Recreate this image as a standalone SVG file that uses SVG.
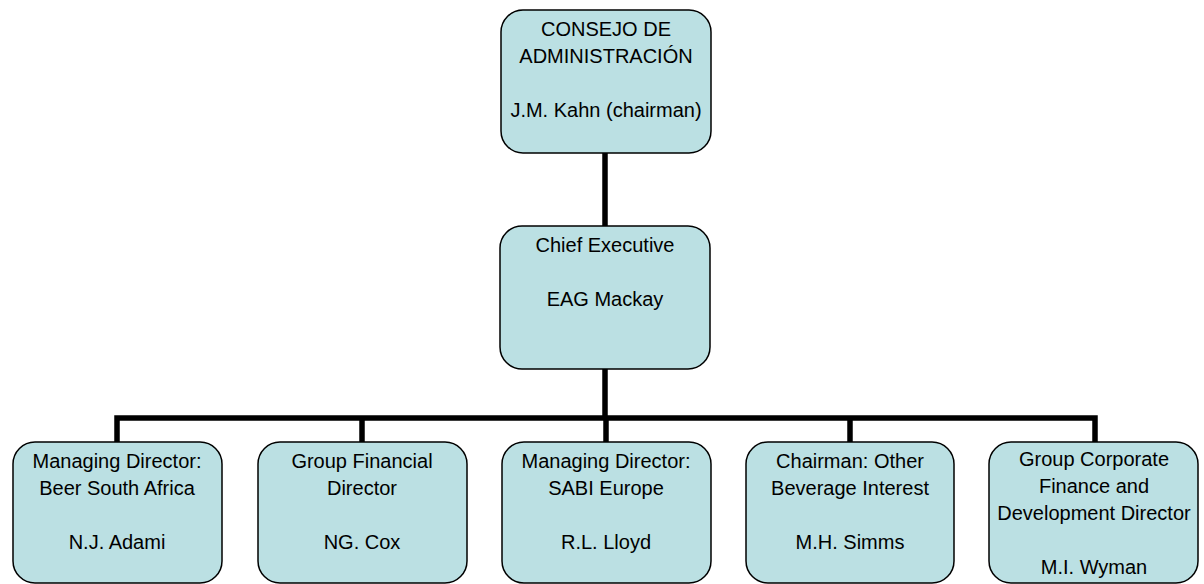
<svg xmlns="http://www.w3.org/2000/svg" width="1204" height="584" viewBox="0 0 1204 584">
<style>
.box{fill:#BBE0E3;stroke:#000;stroke-width:1.5}
.t{font-family:"Liberation Sans",Arial,sans-serif;font-size:20px;fill:#000;text-anchor:middle}
.c{stroke:#000;stroke-width:5.5;fill:none}
</style>
<rect width="1204" height="584" fill="#fff"/>
<g id="connectors">
<line class="c" x1="605" y1="153" x2="605" y2="226"/>
<line class="c" x1="605" y1="369" x2="605" y2="418"/>
<polyline class="c" points="117,442 117,418 1095,418 1095,442"/>
<line class="c" x1="362" y1="418" x2="362" y2="442"/>
<line class="c" x1="606" y1="418" x2="606" y2="442"/>
<line class="c" x1="850" y1="418" x2="850" y2="442"/>
</g>
<g id="board">
<rect class="box" x="501" y="10" width="210" height="143" rx="22"/>
<text class="t" x="606" y="36">CONSEJO DE</text>
<text class="t" x="606" y="63">ADMINISTRACIÓN</text>
<text class="t" x="606" y="117">J.M. Kahn (chairman)</text>
</g>
<g id="ceo">
<rect class="box" x="500" y="226" width="210" height="143" rx="22"/>
<text class="t" x="605" y="252">Chief Executive</text>
<text class="t" x="605" y="306">EAG Mackay</text>
</g>
<g id="n1">
<rect class="box" x="13" y="442" width="209" height="141" rx="22"/>
<text class="t" x="117" y="468">Managing Director:</text>
<text class="t" x="117" y="495">Beer South Africa</text>
<text class="t" x="117" y="549">N.J. Adami</text>
</g>
<g id="n2">
<rect class="box" x="258" y="442" width="209" height="141" rx="22"/>
<text class="t" x="362" y="468">Group Financial</text>
<text class="t" x="362" y="495">Director</text>
<text class="t" x="362" y="549">NG. Cox</text>
</g>
<g id="n3">
<rect class="box" x="502" y="442" width="209" height="141" rx="22"/>
<text class="t" x="606" y="468">Managing Director:</text>
<text class="t" x="606" y="495">SABI Europe</text>
<text class="t" x="606" y="549">R.L. Lloyd</text>
</g>
<g id="n4">
<rect class="box" x="746" y="442" width="208" height="141" rx="22"/>
<text class="t" x="850" y="468">Chairman: Other</text>
<text class="t" x="850" y="495">Beverage Interest</text>
<text class="t" x="850" y="549">M.H. Simms</text>
</g>
<g id="n5">
<rect class="box" x="989" y="442" width="209" height="141" rx="22"/>
<text class="t" x="1094" y="466">Group Corporate</text>
<text class="t" x="1094" y="493">Finance and</text>
<text class="t" x="1094" y="520">Development Director</text>
<text class="t" x="1094" y="574">M.I. Wyman</text>
</g>
</svg>
